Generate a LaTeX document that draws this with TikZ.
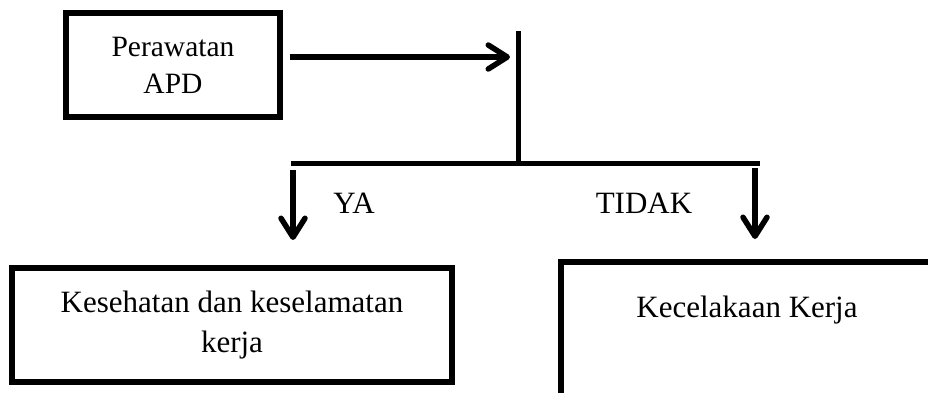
\documentclass[tikz,border=0pt]{standalone}
\usepackage{fontspec}
\setmainfont{Liberation Serif}
\usetikzlibrary{arrows.meta}
\begin{document}
\begin{tikzpicture}[x=1pt,y=-1pt,
  boxnode/.style={draw=black, line width=6pt, inner sep=0pt, align=center},
  bar/.style={draw=black, line width=5pt},
  arr/.style={draw=black, line width=5.5pt, -{Straight Barb[length=19pt,width=24pt,round]}},
  lbl/.style={inner sep=0pt, font=\fontsize{31}{40}\selectfont}
]
\useasboundingbox (0,0) rectangle (928,392);
\clip (0,0) rectangle (928,392);
\fill[white] (0,0) rectangle (928,392);

\node[boxnode, minimum width=214pt, minimum height=104pt, font=\fontsize{29.5}{37}\selectfont] (pa) at (173,65) {Perawatan\\APD};
\node[boxnode, minimum width=440pt, minimum height=114pt, font=\fontsize{31}{40}\selectfont] (ks) at (232,325) {Kesehatan dan keselamatan\\kerja};
\node[boxnode, minimum width=390pt, minimum height=150pt, anchor=north west] (kk) at (558,259) {};
\node[lbl] (kkt) at (747,310) {Kecelakaan Kerja};

\coordinate (a0) at (290,57);
\coordinate (a1) at (510,57);
\coordinate (vt) at (518,31);
\coordinate (vb) at (518,165);
\coordinate (hl) at (291,163);
\coordinate (hr) at (760,163);
\coordinate (l0) at (293,170);
\coordinate (l1) at (293,240);
\coordinate (r0) at (755,168);
\coordinate (r1) at (755,239);

\draw[arr] (a0) -- (a1);
\draw[bar] (vt) -- (vb);
\draw[bar] (hl) -- (hr);
\draw[arr] (l0) -- (l1);
\draw[arr] (r0) -- (r1);

\node[lbl] (ya) at (354,203) {YA};
\node[lbl] (tidak) at (644,203) {TIDAK};
\end{tikzpicture}
\end{document}
